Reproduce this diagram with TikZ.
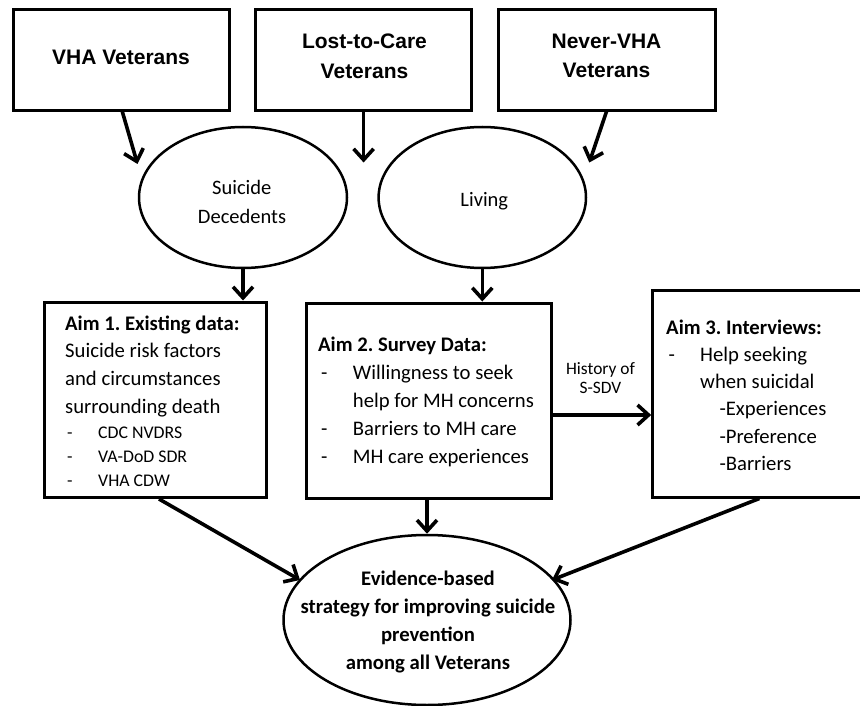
\documentclass[tikz,border=0pt]{standalone}
\usepackage{fontspec}
\setmainfont{Carlito}
\newfontfamily\arialfont{Liberation Sans}
\usetikzlibrary{arrows.meta,shapes.geometric}
\frenchspacing
\begin{document}
\frenchspacing
\begin{tikzpicture}[x=1pt,y=-1pt,
  topbox/.style={draw, line width=3pt, rectangle, inner sep=0pt, minimum height=100.5pt},
  oval/.style={draw, ellipse, line width=2.5pt, inner sep=0pt},
  aimbox/.style={draw, line width=3pt, rectangle, inner sep=0pt},
  arr/.style={line width=3.6pt, -{Straight Barb[length=11pt,width=20pt]}},
  toptxt/.style={anchor=base, inner sep=0pt, font=\arialfont\bfseries\fontsize{21}{26}\selectfont},
  bodytxt/.style={anchor=base west, inner sep=0pt, font=\fontsize{20.7}{25}\selectfont},
  headtxt/.style={anchor=base west, inner sep=0pt, font=\bfseries\fontsize{20.7}{25}\selectfont},
  listtxt/.style={anchor=base west, inner sep=0pt, font=\fontsize{17.8}{22}\selectfont},
  ctrtxt/.style={anchor=base, inner sep=0pt, font=\fontsize{20.5}{25}\selectfont},
  fintxt/.style={anchor=base, inner sep=0pt, font=\bfseries\fontsize{20.7}{25}\selectfont},
  smalltxt/.style={anchor=base, inner sep=0pt, font=\fontsize{17.4}{21}\selectfont}]
\useasboundingbox (0,0) rectangle (860,706);

% top boxes
\node[topbox, minimum width=215.5pt] (vha) at (121.3,59.8) {};
\node[topbox, minimum width=215.8pt] (ltc) at (363.6,59.8) {};
\node[topbox, minimum width=217pt] (nev) at (606.5,59.8) {};
\node[toptxt] (vhat) at (121,65) {VHA Veterans};
\node[toptxt] (ltct1) at (364.5,48.3) {Lost-to-Care};
\node[toptxt] (ltct2) at (364.5,78.3) {Veterans};
\node[toptxt] (nevt1) at (606.5,48.3) {Never-VHA};
\node[toptxt] (nevt2) at (606.5,77.7) {Veterans};

% ellipses
\node[oval, minimum width=208pt, minimum height=141pt] (sd) at (243,197.5) {};
\node[oval, minimum width=207.4pt, minimum height=141pt] (liv) at (482.3,197.5) {};
\node[ctrtxt] (sdt1) at (241.8,194.6) {Suicide};
\node[ctrtxt] (sdt2) at (242,223.2) {Decedents};
\node[ctrtxt] (livt) at (484.3,207) {Living};

% aim boxes
\node[aimbox, minimum width=222pt, minimum height=195.5pt] (a1) at (155,399.75) {};
\node[aimbox, minimum width=245pt, minimum height=195pt] (a2) at (428.5,400.5) {};
\node[aimbox, minimum width=213.3pt, minimum height=207pt] (a3) at (759.35,393.5) {};

\node[headtxt] (a1h) at (65,330) {Aim 1. Existing data:};
\node[bodytxt] (a1b1) at (65,357.5) {Suicide risk factors};
\node[bodytxt] (a1b2) at (65,385.5) {and circumstances};
\node[bodytxt] (a1b3) at (65,413.5) {surrounding death};
\node[listtxt] (a1d1) at (67,438.5) {-};
\node[listtxt] (a1l1) at (98,438.5) {CDC NVDRS};
\node[listtxt] (a1d2) at (67,462.5) {-};
\node[listtxt] (a1l2) at (98,462.5) {VA-DoD SDR};
\node[listtxt] (a1d3) at (67,486.5) {-};
\node[listtxt] (a1l3) at (98,486.5) {VHA CDW};

\node[headtxt] (a2h) at (318,351.7) {Aim 2. Survey Data:};
\node[bodytxt] (a2d1) at (321,379.5) {-};
\node[bodytxt] (a2l1) at (352.7,379.5) {Willingness to seek};
\node[bodytxt] (a2l1b) at (352.7,407.3) {help for MH concerns};
\node[bodytxt] (a2d2) at (321,435.3) {-};
\node[bodytxt] (a2l2) at (352.7,435.3) {Barriers to MH care};
\node[bodytxt] (a2d3) at (321,463.3) {-};
\node[bodytxt] (a2l3) at (352.7,463.3) {MH care experiences};

\node[headtxt] (a3h) at (666,334.5) {Aim 3. Interviews:};
\node[bodytxt] (a3d1) at (668.3,361.5) {-};
\node[bodytxt] (a3l1) at (700,361.5) {Help seeking};
\node[bodytxt] (a3l1b) at (700,388.5) {when suicidal};
\node[bodytxt] (a3s1) at (719.3,415.5) {-Experiences};
\node[bodytxt] (a3s2) at (719.3,443) {-Preference};
\node[bodytxt] (a3s3) at (719.3,470) {-Barriers};

\node[smalltxt] (hist1) at (600.5,374.3) {History of};
\node[smalltxt] (hist2) at (600.5,393.3) {S-SDV};

% final ellipse
\node[oval, minimum width=287pt, minimum height=170pt] (fin) at (427,620) {};
\node[fintxt] (fin1) at (428,585) {Evidence-based};
\node[fintxt] (fin2) at (428,613) {strategy for improving suicide};
\node[fintxt] (fin3) at (428,641) {prevention};
\node[fintxt] (fin4) at (428,669) {among all Veterans};

% connectors
\coordinate (ltcend) at (363.6,162.5);
\draw[arr] ([xshift=1pt]vha.south) -- ([shift={(-105.5,-33.5)}]sd.center);
\draw[arr] (ltc.south) -- (ltcend);
\draw[arr] (nev.south) -- ([shift={(107,-35)}]liv.center);
\draw[arr] (sd.south) -- (sd.south |- a1.north);
\draw[arr] (liv.south) -- (liv.south |- a2.north);
\draw[arr] ([yshift=-14.5pt]a2.east) coordinate (h1) -- (h1 -| a3.west);
\draw[arr] ([xshift=4pt]a1.south) -- ([shift={(-127,-40)}]fin.center);
\draw[arr] (a2.south -| fin.north) -- (fin.north);
\draw[arr] (a3.south) -- ([shift={(125,-40)}]fin.center);
\end{tikzpicture}
\end{document}
